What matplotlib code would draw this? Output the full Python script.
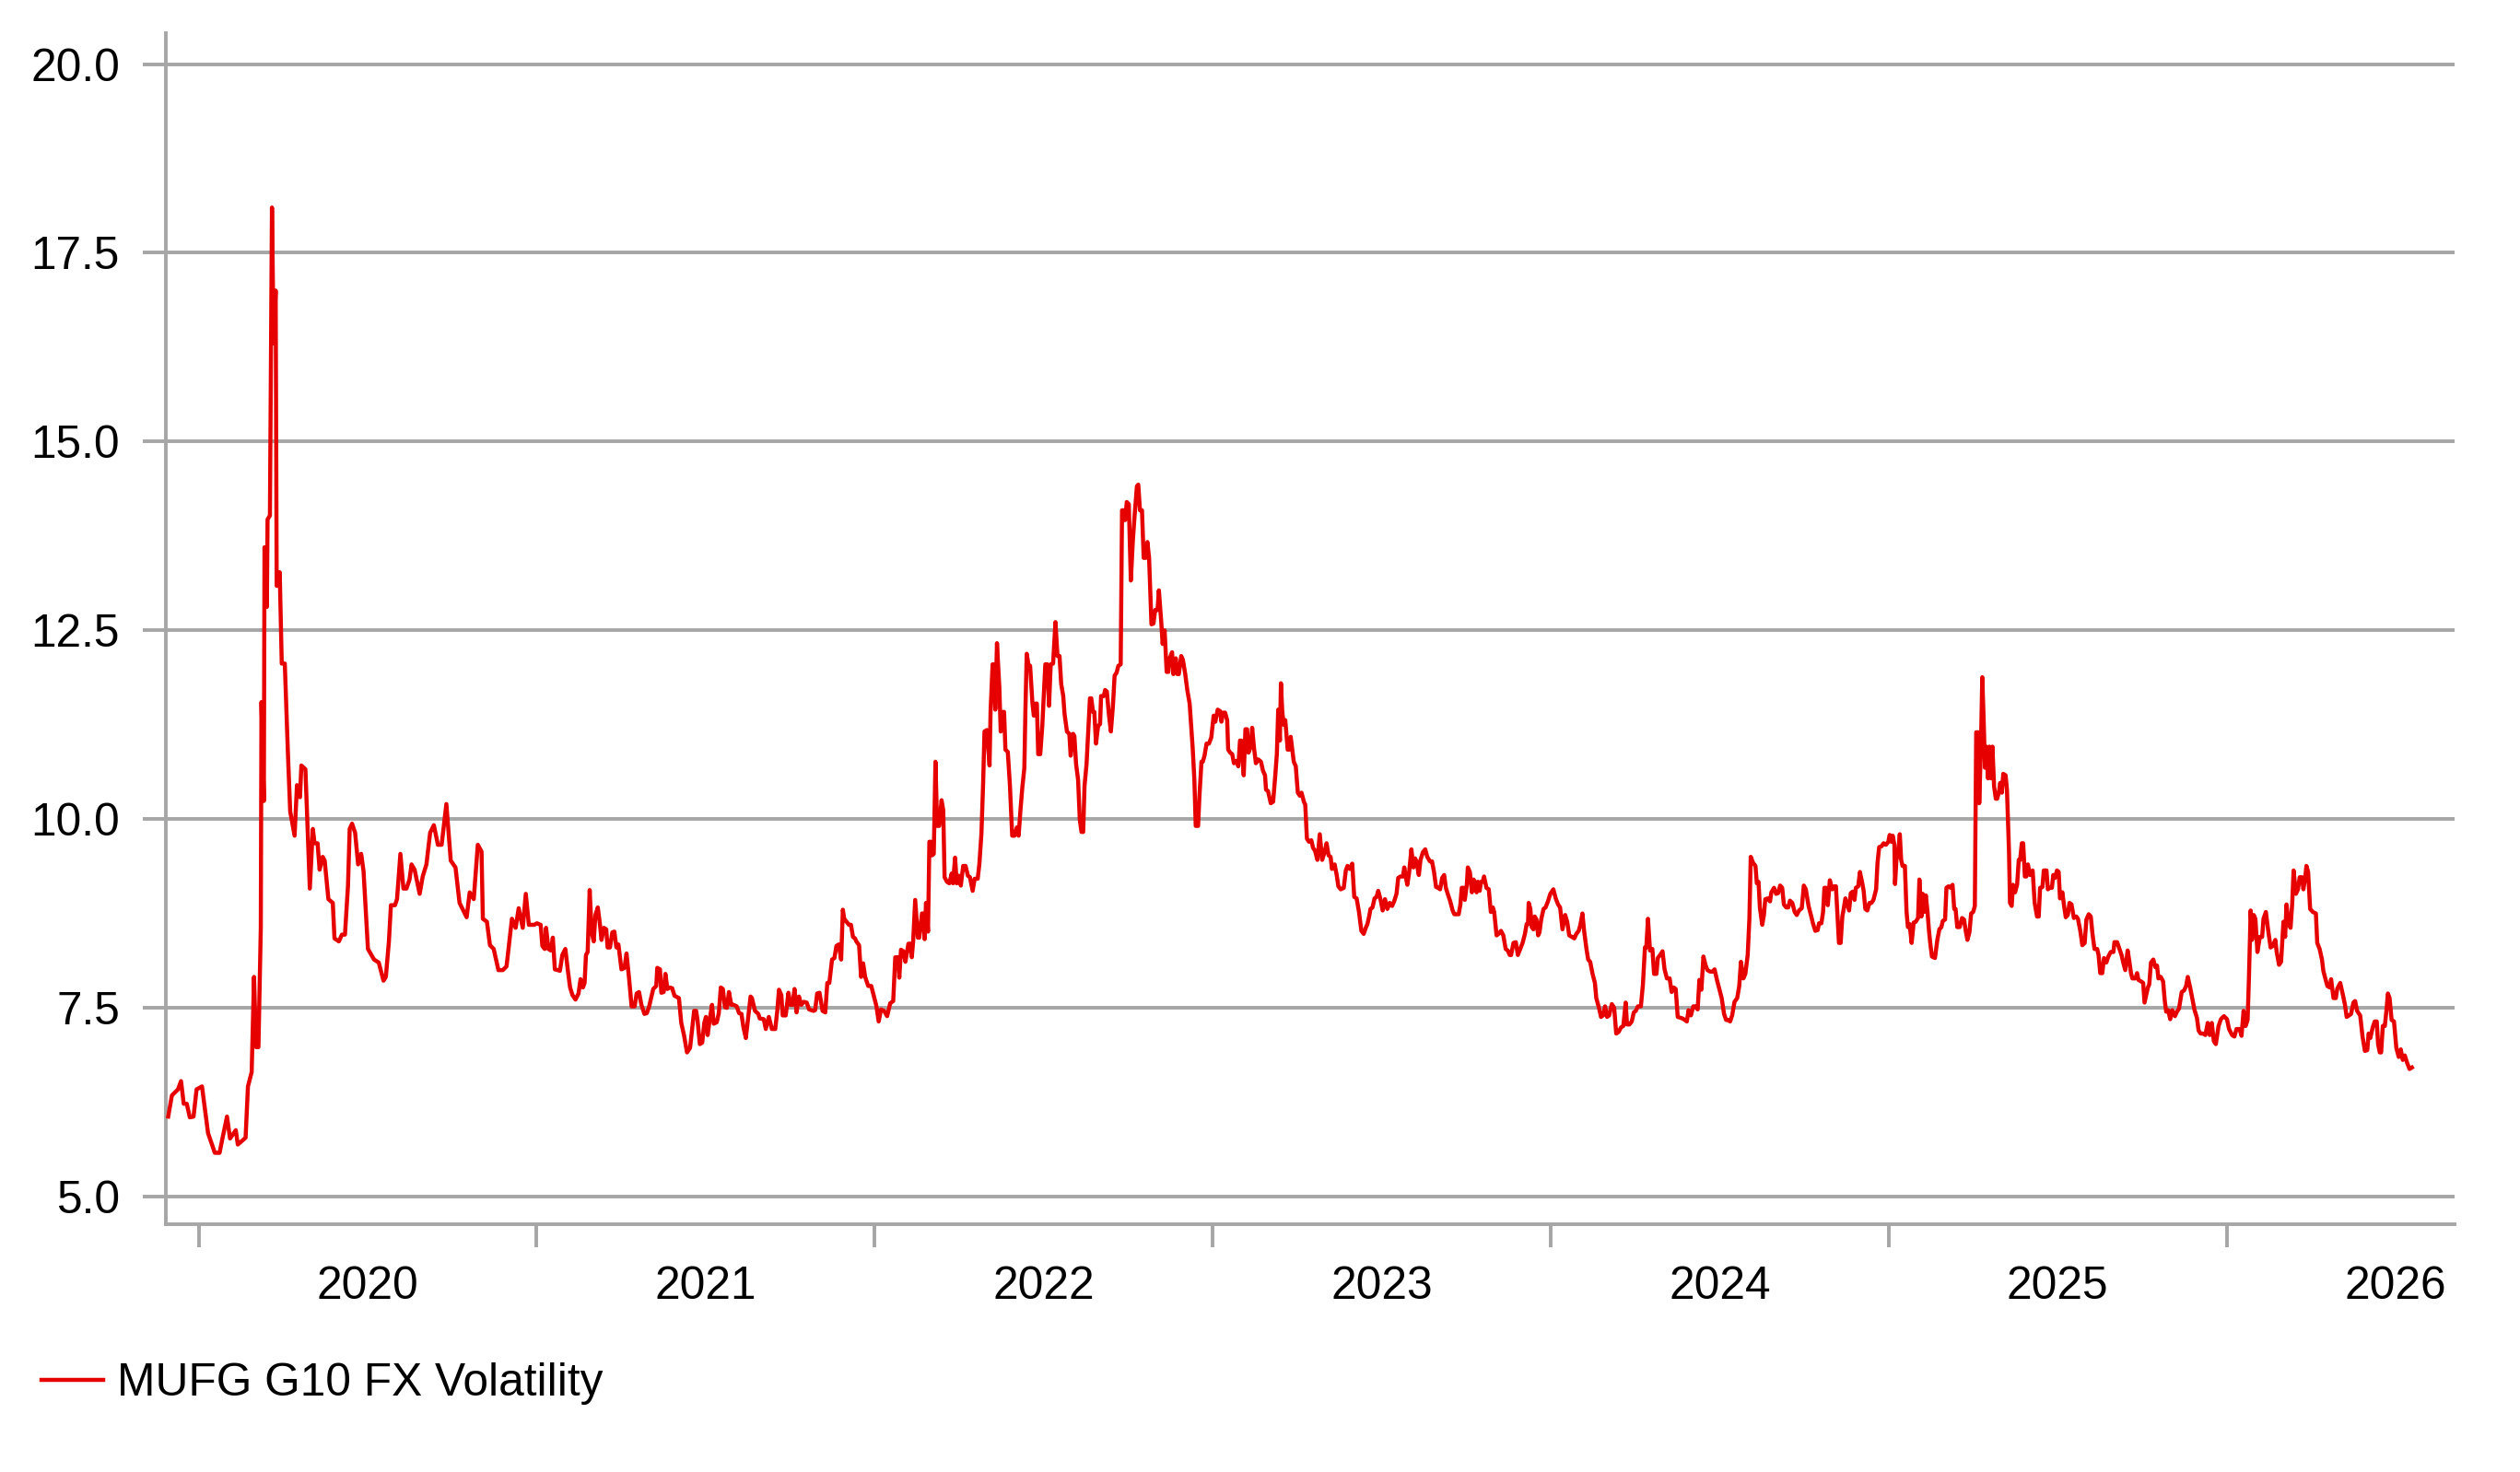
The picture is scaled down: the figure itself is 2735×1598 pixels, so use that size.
import numpy as np
import matplotlib.pyplot as plt

plt.rcParams['font.family'] = ['Liberation Sans', 'DejaVu Sans']

# MUFG G10 FX Volatility (x in decimal years)
t_2020 = [2019.910, 2019.921, 2019.939, 2019.948, 2019.956, 2019.965, 2019.974, 2019.985, 2019.994,
          2020.010, 2020.028, 2020.048, 2020.062, 2020.071, 2020.084, 2020.093, 2020.110, 2020.116,
          2020.139, 2020.146, 2020.157, 2020.164, 2020.170, 2020.177, 2020.184, 2020.186, 2020.193,
          2020.195, 2020.202, 2020.204, 2020.211, 2020.217, 2020.222, 2020.228, 2020.231, 2020.237,
          2020.240, 2020.246, 2020.255, 2020.264, 2020.271, 2020.284, 2020.291, 2020.300, 2020.304,
          2020.316, 2020.329, 2020.338, 2020.343, 2020.352, 2020.358, 2020.367, 2020.373, 2020.384,
          2020.397, 2020.402, 2020.415, 2020.424, 2020.433, 2020.442, 2020.447, 2020.454, 2020.463,
          2020.472, 2020.481, 2020.488, 2020.501, 2020.519, 2020.533, 2020.547, 2020.554, 2020.563,
          2020.569, 2020.581, 2020.587, 2020.597, 2020.606, 2020.615, 2020.624, 2020.630, 2020.639,
          2020.654, 2020.663, 2020.674, 2020.685, 2020.696, 2020.708, 2020.719, 2020.733, 2020.746,
          2020.760, 2020.772, 2020.782, 2020.793, 2020.802, 2020.814, 2020.826, 2020.837, 2020.841,
          2020.853, 2020.862, 2020.873, 2020.887, 2020.900, 2020.911, 2020.927, 2020.938, 2020.947,
          2020.959, 2020.968, 2020.977, 2020.993]
v_2020 = [6.06, 6.34, 6.42, 6.53, 6.23, 6.23, 6.05, 6.06, 6.42,
          6.46, 5.84, 5.58, 5.58, 5.78, 6.06, 5.77, 5.88, 5.69,
          5.78, 6.46, 6.65, 7.91, 6.98, 6.98, 8.56, 11.55, 10.24,
          13.60, 12.81, 13.97, 14.02, 18.10, 16.30, 17.00, 13.09, 13.09,
          13.27, 12.06, 12.06, 10.90, 10.10, 9.78, 10.45, 10.29, 10.71,
          10.66, 9.08, 9.87, 9.68, 9.68, 9.33, 9.50, 9.45, 8.94,
          8.89, 8.42, 8.38, 8.47, 8.47, 9.12, 9.87, 9.94, 9.82,
          9.40, 9.54, 9.31, 8.28, 8.14, 8.10, 7.86, 7.91, 8.38,
          8.86, 8.86, 8.94, 9.54, 9.08, 9.08, 9.20, 9.40, 9.33,
          9.01, 9.24, 9.40, 9.82, 9.92, 9.66, 9.66, 10.20, 9.45,
          9.36, 8.89, 8.80, 8.70, 9.03, 8.94, 9.66, 9.57, 8.68,
          8.64, 8.33, 8.28, 8.00, 8.00, 8.05, 8.68, 8.56, 8.82,
          8.56, 9.01, 8.60, 8.60]

t_2021 = [2021.001, 2021.012, 2021.017, 2021.024, 2021.028, 2021.035, 2021.042, 2021.048, 2021.054,
          2021.063, 2021.069, 2021.076, 2021.085, 2021.092, 2021.099, 2021.106, 2021.115, 2021.124,
          2021.130, 2021.137, 2021.142, 2021.146, 2021.151, 2021.157, 2021.163, 2021.169, 2021.174,
          2021.181, 2021.187, 2021.192, 2021.199, 2021.206, 2021.210, 2021.217, 2021.224, 2021.230,
          2021.236, 2021.242, 2021.251, 2021.260, 2021.266, 2021.274, 2021.281, 2021.290, 2021.296,
          2021.303, 2021.310, 2021.319, 2021.326, 2021.333, 2021.345, 2021.354, 2021.357, 2021.365,
          2021.369, 2021.376, 2021.381, 2021.387, 2021.394, 2021.401, 2021.408, 2021.421, 2021.428,
          2021.436, 2021.445, 2021.454, 2021.460, 2021.466, 2021.472, 2021.476, 2021.483, 2021.490,
          2021.496, 2021.501, 2021.506, 2021.512, 2021.519, 2021.524, 2021.533, 2021.539, 2021.545,
          2021.551, 2021.557, 2021.563, 2021.569, 2021.576, 2021.583, 2021.592, 2021.599, 2021.606,
          2021.612, 2021.619, 2021.626, 2021.633, 2021.637, 2021.646, 2021.656, 2021.660, 2021.672,
          2021.678, 2021.687, 2021.696, 2021.706, 2021.712, 2021.717, 2021.724, 2021.728, 2021.737,
          2021.745, 2021.751, 2021.757, 2021.763, 2021.769, 2021.776, 2021.783, 2021.790, 2021.799,
          2021.806, 2021.819, 2021.824, 2021.830, 2021.837, 2021.846, 2021.854, 2021.860, 2021.866,
          2021.874, 2021.881, 2021.887, 2021.894, 2021.901, 2021.906, 2021.910, 2021.917, 2021.924,
          2021.930, 2021.936, 2021.942, 2021.946, 2021.954, 2021.960, 2021.966, 2021.972, 2021.981,
          2021.990]
v_2021 = [8.62, 8.60, 8.32, 8.28, 8.56, 8.28, 8.26, 8.43, 8.01,
          8.00, 7.99, 8.20, 8.28, 8.01, 7.77, 7.67, 7.61, 7.69,
          7.88, 7.77, 7.83, 8.20, 8.24, 9.06, 8.50, 8.38, 8.73,
          8.83, 8.62, 8.40, 8.56, 8.54, 8.30, 8.30, 8.50, 8.51,
          8.30, 8.34, 8.01, 8.03, 8.22, 7.87, 7.52, 7.52, 7.69,
          7.71, 7.54, 7.42, 7.43, 7.52, 7.75, 7.79, 8.03, 8.01,
          7.70, 7.71, 7.95, 7.75, 7.77, 7.76, 7.66, 7.63, 7.30,
          7.14, 6.91, 6.97, 7.22, 7.46, 7.46, 7.34, 7.02, 7.04,
          7.30, 7.38, 7.14, 7.34, 7.54, 7.29, 7.31, 7.43, 7.77,
          7.75, 7.51, 7.50, 7.71, 7.54, 7.54, 7.52, 7.43, 7.42,
          7.24, 7.10, 7.38, 7.65, 7.63, 7.46, 7.42, 7.36, 7.35,
          7.22, 7.38, 7.22, 7.22, 7.46, 7.74, 7.67, 7.40, 7.40,
          7.70, 7.54, 7.54, 7.75, 7.44, 7.65, 7.54, 7.58, 7.57,
          7.48, 7.46, 7.47, 7.69, 7.70, 7.46, 7.44, 7.83, 7.83,
          8.14, 8.16, 8.32, 8.34, 8.14, 8.80, 8.68, 8.64, 8.60,
          8.60, 8.44, 8.42, 8.38, 8.33, 7.91, 8.09, 7.91, 7.79,
          7.79]

t_2022 = [2022.005, 2022.012, 2022.019, 2022.028, 2022.037, 2022.046, 2022.055, 2022.061, 2022.069,
          2022.073, 2022.078, 2022.085, 2022.091, 2022.100, 2022.105, 2022.110, 2022.114, 2022.120,
          2022.128, 2022.132, 2022.140, 2022.143, 2022.148, 2022.152, 2022.158, 2022.162, 2022.167,
          2022.170, 2022.175, 2022.180, 2022.185, 2022.191, 2022.198, 2022.203, 2022.207, 2022.214,
          2022.221, 2022.228, 2022.232, 2022.238, 2022.243, 2022.249, 2022.255, 2022.262, 2022.269,
          2022.276, 2022.282, 2022.290, 2022.296, 2022.305, 2022.310, 2022.316, 2022.321, 2022.325,
          2022.332, 2022.340, 2022.343, 2022.349, 2022.353, 2022.357, 2022.362, 2022.369, 2022.373,
          2022.380, 2022.383, 2022.387, 2022.394, 2022.400, 2022.407, 2022.414, 2022.421, 2022.426,
          2022.432, 2022.437, 2022.443, 2022.446, 2022.450, 2022.455, 2022.460, 2022.467, 2022.471,
          2022.476, 2022.480, 2022.484, 2022.490, 2022.496, 2022.500, 2022.505, 2022.511, 2022.516,
          2022.521, 2022.528, 2022.535, 2022.541, 2022.547, 2022.552, 2022.558, 2022.562, 2022.569,
          2022.576, 2022.580, 2022.587, 2022.591, 2022.596, 2022.602, 2022.607, 2022.612, 2022.617,
          2022.621, 2022.627, 2022.632, 2022.637, 2022.641, 2022.646, 2022.650, 2022.655, 2022.661,
          2022.667, 2022.670, 2022.678, 2022.682, 2022.687, 2022.693, 2022.699, 2022.705, 2022.710,
          2022.716, 2022.721, 2022.728, 2022.732, 2022.737, 2022.741, 2022.746, 2022.752, 2022.758,
          2022.764, 2022.769, 2022.776, 2022.780, 2022.785, 2022.791, 2022.796, 2022.802, 2022.807,
          2022.812, 2022.819, 2022.825, 2022.830, 2022.837, 2022.841, 2022.848, 2022.852, 2022.858,
          2022.864, 2022.869, 2022.873, 2022.880, 2022.884, 2022.891, 2022.896, 2022.900, 2022.907,
          2022.912, 2022.919, 2022.925, 2022.932, 2022.941, 2022.946, 2022.950, 2022.957, 2022.961,
          2022.967, 2022.971, 2022.976, 2022.982, 2022.989, 2022.996, 2023.003]
v_2022 = [7.53, 7.32, 7.48, 7.46, 7.39, 7.56, 7.59, 8.17, 8.17,
          7.90, 8.27, 8.25, 8.11, 8.35, 8.35, 8.17, 8.38, 8.93,
          8.43, 8.43, 8.75, 8.75, 8.41, 8.89, 8.51, 9.70, 9.70,
          9.52, 9.54, 10.76, 9.91, 9.91, 10.25, 10.12, 9.23, 9.17,
          9.15, 9.28, 9.15, 9.49, 9.15, 9.25, 9.12, 9.38, 9.38,
          9.25, 9.23, 9.05, 9.21, 9.21, 9.41, 9.81, 10.47, 11.16,
          11.18, 10.71, 11.42, 12.05, 12.05, 11.45, 12.33, 11.74, 11.16,
          11.42, 11.42, 10.92, 10.89, 10.47, 9.78, 9.78, 9.89, 9.78,
          10.15, 10.42, 10.68, 11.42, 12.19, 12.05, 12.03, 11.53, 11.37,
          11.53, 11.53, 10.86, 10.86, 11.23, 11.60, 12.05, 12.05, 11.50,
          12.05, 12.06, 12.61, 12.16, 12.16, 11.79, 11.63, 11.39, 11.16,
          11.13, 10.84, 11.13, 11.10, 10.73, 10.52, 9.99, 9.83, 9.83,
          10.44, 10.73, 11.16, 11.60, 11.60, 11.42, 11.42, 11.00, 11.23,
          11.26, 11.63, 11.63, 11.71, 11.69, 11.39, 11.16, 11.50, 11.90,
          11.94, 12.03, 12.05, 14.09, 14.09, 13.96, 14.20, 14.17, 13.16,
          13.69, 14.01, 14.41, 14.43, 14.09, 14.09, 13.46, 13.46, 13.67,
          13.46, 12.58, 12.59, 12.77, 12.77, 13.03, 12.61, 12.32, 12.50,
          11.95, 11.95, 12.13, 12.21, 11.92, 12.13, 11.92, 11.92, 12.16,
          12.11, 11.92, 11.71, 11.53, 10.94, 10.52, 9.91, 9.91, 10.31,
          10.76, 10.76, 10.84, 11.00, 11.00, 11.08, 11.37]

t_2023 = [2023.008, 2023.015, 2023.022, 2023.026, 2023.031, 2023.037, 2023.043, 2023.046, 2023.052,
          2023.058, 2023.063, 2023.070, 2023.076, 2023.081, 2023.085, 2023.092, 2023.097, 2023.102,
          2023.106, 2023.113, 2023.117, 2023.122, 2023.128, 2023.135, 2023.143, 2023.149, 2023.155,
          2023.158, 2023.164, 2023.172, 2023.179, 2023.185, 2023.190, 2023.194, 2023.199, 2023.202,
          2023.206, 2023.210, 2023.215, 2023.222, 2023.226, 2023.231, 2023.235, 2023.240, 2023.246,
          2023.252, 2023.258, 2023.263, 2023.270, 2023.274, 2023.279, 2023.285, 2023.292, 2023.297,
          2023.303, 2023.310, 2023.317, 2023.324, 2023.331, 2023.337, 2023.343, 2023.349, 2023.353,
          2023.361, 2023.367, 2023.372, 2023.379, 2023.388, 2023.394, 2023.399, 2023.406, 2023.413,
          2023.419, 2023.426, 2023.433, 2023.440, 2023.447, 2023.453, 2023.458, 2023.463, 2023.467,
          2023.473, 2023.479, 2023.485, 2023.490, 2023.497, 2023.503, 2023.510, 2023.517, 2023.524,
          2023.531, 2023.537, 2023.544, 2023.549, 2023.555, 2023.563, 2023.567, 2023.572, 2023.576,
          2023.581, 2023.588, 2023.594, 2023.599, 2023.603, 2023.610, 2023.615, 2023.622, 2023.629,
          2023.635, 2023.643, 2023.649, 2023.655, 2023.661, 2023.667, 2023.673, 2023.679, 2023.685,
          2023.690, 2023.697, 2023.703, 2023.710, 2023.715, 2023.722, 2023.728, 2023.733, 2023.737,
          2023.743, 2023.746, 2023.752, 2023.755, 2023.761, 2023.767, 2023.772, 2023.776, 2023.781,
          2023.785, 2023.790, 2023.794, 2023.799, 2023.803, 2023.810, 2023.817, 2023.823, 2023.829,
          2023.833, 2023.840, 2023.846, 2023.853, 2023.860, 2023.867, 2023.873, 2023.879, 2023.883,
          2023.890, 2023.897, 2023.903, 2023.910, 2023.917, 2023.924, 2023.929, 2023.933, 2023.935,
          2023.940, 2023.944, 2023.949, 2023.953, 2023.958, 2023.963, 2023.967, 2023.972, 2023.979,
          2023.985, 2023.992, 2023.999]
v_2023 = [11.29, 11.45, 11.43, 11.29, 11.41, 11.41, 11.31, 10.92, 10.88,
          10.86, 10.74, 10.77, 10.70, 11.04, 11.04, 10.58, 11.19, 11.19,
          10.88, 10.96, 11.21, 10.96, 10.74, 10.79, 10.76, 10.64, 10.58,
          10.39, 10.37, 10.21, 10.23, 10.56, 10.86, 11.45, 11.04, 11.80,
          11.43, 11.25, 11.31, 10.92, 10.92, 11.09, 10.94, 10.76, 10.70,
          10.35, 10.31, 10.35, 10.23, 10.19, 9.74, 9.70, 9.72, 9.62,
          9.58, 9.46, 9.80, 9.46, 9.56, 9.68, 9.52, 9.50, 9.34,
          9.40, 9.26, 9.11, 9.07, 9.09, 9.32, 9.38, 9.34, 9.41,
          8.97, 8.95, 8.77, 8.52, 8.48, 8.56, 8.61, 8.71, 8.81,
          8.83, 8.95, 8.97, 9.05, 8.93, 8.79, 8.94, 8.81, 8.89,
          8.85, 8.91, 9.01, 9.22, 9.24, 9.24, 9.36, 9.22, 9.13,
          9.28, 9.60, 9.36, 9.48, 9.44, 9.26, 9.46, 9.56, 9.60,
          9.50, 9.44, 9.44, 9.30, 9.10, 9.09, 9.07, 9.22, 9.26,
          9.09, 8.99, 8.91, 8.79, 8.74, 8.74, 8.74, 8.87, 9.09,
          9.09, 8.93, 9.13, 9.36, 9.30, 9.03, 9.20, 9.17, 9.03,
          9.17, 9.05, 9.17, 9.17, 9.24, 9.09, 9.07, 8.77, 8.83,
          8.77, 8.46, 8.48, 8.52, 8.46, 8.28, 8.26, 8.20, 8.20,
          8.36, 8.37, 8.20, 8.28, 8.36, 8.48, 8.61, 8.61, 8.89,
          8.81, 8.57, 8.54, 8.71, 8.67, 8.46, 8.50, 8.67, 8.81,
          8.83, 8.91, 9.01]

t_2024 = [2024.008, 2024.015, 2024.022, 2024.028, 2024.035, 2024.043, 2024.049, 2024.055, 2024.063,
          2024.070, 2024.076, 2024.083, 2024.088, 2024.094, 2024.099, 2024.106, 2024.111, 2024.117,
          2024.124, 2024.131, 2024.135, 2024.143, 2024.149, 2024.155, 2024.161, 2024.167, 2024.173,
          2024.181, 2024.188, 2024.194, 2024.201, 2024.208, 2024.215, 2024.222, 2024.226, 2024.233,
          2024.240, 2024.246, 2024.252, 2024.258, 2024.267, 2024.273, 2024.279, 2024.283, 2024.288,
          2024.294, 2024.301, 2024.306, 2024.313, 2024.317, 2024.324, 2024.331, 2024.337, 2024.344,
          2024.352, 2024.358, 2024.364, 2024.370, 2024.376, 2024.383, 2024.390, 2024.397, 2024.403,
          2024.408, 2024.415, 2024.422, 2024.428, 2024.435, 2024.440, 2024.446, 2024.452, 2024.458,
          2024.464, 2024.472, 2024.479, 2024.485, 2024.492, 2024.499, 2024.506, 2024.513, 2024.519,
          2024.524, 2024.531, 2024.537, 2024.544, 2024.552, 2024.558, 2024.563, 2024.570, 2024.576,
          2024.583, 2024.588, 2024.592, 2024.599, 2024.606, 2024.610, 2024.615, 2024.619, 2024.626,
          2024.631, 2024.635, 2024.642, 2024.649, 2024.653, 2024.661, 2024.667, 2024.673, 2024.679,
          2024.685, 2024.690, 2024.697, 2024.703, 2024.708, 2024.715, 2024.722, 2024.728, 2024.735,
          2024.743, 2024.749, 2024.755, 2024.763, 2024.770, 2024.776, 2024.783, 2024.790, 2024.794,
          2024.801, 2024.806, 2024.810, 2024.815, 2024.820, 2024.826, 2024.833, 2024.840, 2024.844,
          2024.849, 2024.853, 2024.858, 2024.863, 2024.867, 2024.872, 2024.879, 2024.883, 2024.888,
          2024.894, 2024.899, 2024.903, 2024.910, 2024.915, 2024.922, 2024.926, 2024.931, 2024.937,
          2024.943, 2024.949, 2024.955, 2024.963, 2024.967, 2024.972, 2024.979, 2024.985, 2024.992,
          2024.999, 2025.003, 2025.008]
v_2024 = [9.07, 8.95, 8.87, 8.83, 8.54, 8.73, 8.64, 8.46, 8.44,
          8.42, 8.48, 8.52, 8.60, 8.75, 8.52, 8.28, 8.14, 8.11,
          7.95, 7.83, 7.63, 7.50, 7.38, 7.40, 7.52, 7.38, 7.40,
          7.55, 7.50, 7.16, 7.18, 7.24, 7.26, 7.57, 7.28, 7.28,
          7.32, 7.44, 7.46, 7.52, 7.52, 7.81, 8.30, 8.30, 8.68,
          8.26, 8.28, 7.95, 7.95, 8.16, 8.20, 8.25, 8.01, 7.89,
          7.89, 7.71, 7.77, 7.75, 7.38, 7.37, 7.36, 7.34, 7.32,
          7.47, 7.40, 7.52, 7.52, 7.48, 7.87, 7.74, 8.18, 8.07,
          8.00, 7.98, 7.98, 8.01, 7.87, 7.75, 7.63, 7.42, 7.34,
          7.34, 7.32, 7.40, 7.58, 7.63, 7.79, 8.11, 7.89, 7.95,
          8.20, 8.68, 9.50, 9.42, 9.38, 9.15, 9.17, 8.83, 8.60,
          8.73, 8.94, 8.95, 8.91, 9.03, 9.09, 9.01, 9.02, 9.12,
          9.09, 8.87, 8.83, 8.83, 8.92, 8.89, 8.77, 8.73, 8.79,
          8.82, 9.12, 9.07, 8.85, 8.73, 8.62, 8.52, 8.53, 8.62,
          8.62, 8.77, 9.09, 9.09, 8.86, 9.19, 9.07, 9.11, 9.11,
          8.68, 8.36, 8.36, 8.71, 8.81, 8.95, 8.85, 8.79, 9.02,
          9.04, 8.93, 9.09, 9.11, 9.30, 9.15, 9.05, 8.81, 8.79,
          8.89, 8.89, 8.93, 9.07, 9.42, 9.63, 9.64, 9.68, 9.66,
          9.70, 9.79, 9.70]

t_2025 = [2025.012, 2025.017, 2025.019, 2025.023, 2025.028, 2025.033, 2025.037, 2025.041, 2025.048,
          2025.053, 2025.057, 2025.062, 2025.068, 2025.074, 2025.080, 2025.087, 2025.091, 2025.097,
          2025.101, 2025.105, 2025.110, 2025.115, 2025.119, 2025.123, 2025.128, 2025.137, 2025.144,
          2025.150, 2025.156, 2025.160, 2025.167, 2025.171, 2025.177, 2025.183, 2025.189, 2025.194,
          2025.198, 2025.203, 2025.210, 2025.217, 2025.223, 2025.228, 2025.233, 2025.239, 2025.244,
          2025.250, 2025.255, 2025.259, 2025.265, 2025.268, 2025.273, 2025.277, 2025.281, 2025.285,
          2025.289, 2025.294, 2025.298, 2025.303, 2025.307, 2025.312, 2025.317, 2025.321, 2025.326,
          2025.330, 2025.335, 2025.339, 2025.346, 2025.350, 2025.356, 2025.359, 2025.364, 2025.368,
          2025.374, 2025.380, 2025.385, 2025.389, 2025.394, 2025.398, 2025.403, 2025.407, 2025.412,
          2025.418, 2025.426, 2025.432, 2025.439, 2025.444, 2025.448, 2025.455, 2025.459, 2025.467,
          2025.471, 2025.477, 2025.483, 2025.487, 2025.492, 2025.498, 2025.503, 2025.507, 2025.514,
          2025.519, 2025.524, 2025.530, 2025.535, 2025.541, 2025.548, 2025.555, 2025.560, 2025.567,
          2025.573, 2025.580, 2025.585, 2025.592, 2025.598, 2025.603, 2025.609, 2025.617, 2025.621,
          2025.626, 2025.632, 2025.637, 2025.644, 2025.650, 2025.657, 2025.665, 2025.668, 2025.676,
          2025.683, 2025.689, 2025.694, 2025.700, 2025.707, 2025.712, 2025.717, 2025.721, 2025.730,
          2025.735, 2025.739, 2025.747, 2025.753, 2025.757, 2025.762, 2025.767, 2025.771, 2025.776,
          2025.783, 2025.789, 2025.794, 2025.798, 2025.805, 2025.812, 2025.817, 2025.821, 2025.827,
          2025.833, 2025.839, 2025.847, 2025.853, 2025.859, 2025.867, 2025.874, 2025.880, 2025.885,
          2025.892, 2025.898, 2025.905, 2025.912, 2025.917, 2025.923, 2025.930, 2025.937, 2025.944,
          2025.950, 2025.956, 2025.962, 2025.968, 2025.976, 2025.983, 2025.992, 2026.001, 2026.007,
          2026.016]
v_2025 = [9.78, 9.66, 9.14, 9.46, 9.54, 9.80, 9.46, 9.38, 9.38,
          8.77, 8.57, 8.61, 8.36, 8.63, 8.64, 8.69, 9.20, 8.71,
          9.01, 8.77, 8.99, 8.77, 8.54, 8.36, 8.18, 8.16, 8.40,
          8.54, 8.57, 8.65, 8.67, 9.09, 9.11, 9.09, 9.13, 8.81,
          8.81, 8.57, 8.57, 8.69, 8.67, 8.52, 8.40, 8.50, 8.75,
          8.77, 8.85, 11.15, 11.15, 10.21, 10.96, 11.88, 11.33, 10.68,
          10.96, 10.54, 10.96, 10.54, 10.96, 10.43, 10.27, 10.27, 10.35,
          10.48, 10.35, 10.60, 10.58, 10.39, 9.58, 8.89, 8.85, 9.13,
          9.03, 9.13, 9.46, 9.46, 9.68, 9.68, 9.24, 9.24, 9.40,
          9.26, 9.32, 8.89, 8.71, 8.71, 9.09, 9.10, 9.32, 9.32,
          9.07, 9.09, 9.09, 9.26, 9.22, 9.32, 9.30, 8.95, 9.03,
          8.85, 8.70, 8.73, 8.89, 8.87, 8.69, 8.71, 8.68, 8.52,
          8.33, 8.36, 8.67, 8.74, 8.71, 8.48, 8.28, 8.28, 8.20,
          7.96, 7.96, 8.16, 8.10, 8.18, 8.24, 8.24, 8.37, 8.37,
          8.28, 8.20, 8.10, 8.00, 8.26, 8.12, 7.96, 7.89, 7.89,
          7.96, 7.87, 7.85, 7.83, 7.57, 7.67, 7.77, 7.81, 8.10,
          8.14, 8.04, 8.06, 7.89, 7.91, 7.85, 7.59, 7.45, 7.47,
          7.35, 7.47, 7.39, 7.45, 7.49, 7.71, 7.73, 7.79, 7.91,
          7.77, 7.63, 7.47, 7.37, 7.20, 7.16, 7.16, 7.14, 7.30,
          7.14, 7.30, 7.06, 7.02, 7.26, 7.35, 7.39, 7.35, 7.22,
          7.14]

t_2026 = [2026.023, 2026.029, 2026.038, 2026.044, 2026.050, 2026.056, 2026.062, 2026.066, 2026.071,
          2026.075, 2026.080, 2026.085, 2026.091, 2026.098, 2026.105, 2026.109, 2026.116, 2026.123,
          2026.130, 2026.136, 2026.144, 2026.148, 2026.155, 2026.161, 2026.168, 2026.173, 2026.177,
          2026.184, 2026.189, 2026.194, 2026.198, 2026.205, 2026.211, 2026.216, 2026.223, 2026.227,
          2026.232, 2026.236, 2026.241, 2026.247, 2026.255, 2026.264, 2026.268, 2026.275, 2026.282,
          2026.286, 2026.293, 2026.298, 2026.305, 2026.309, 2026.316, 2026.323, 2026.327, 2026.336,
          2026.344, 2026.350, 2026.355, 2026.362, 2026.368, 2026.375, 2026.380, 2026.386, 2026.395,
          2026.402, 2026.409, 2026.416, 2026.420, 2026.425, 2026.432, 2026.438, 2026.444, 2026.448,
          2026.453, 2026.457, 2026.462, 2026.468, 2026.473, 2026.477, 2026.482, 2026.488, 2026.495,
          2026.502, 2026.509, 2026.515, 2026.521, 2026.527, 2026.534, 2026.541, 2026.548]
v_2026 = [7.12, 7.22, 7.22, 7.13, 7.46, 7.26, 7.34, 7.91, 8.79,
          8.40, 8.73, 8.68, 8.24, 8.44, 8.44, 8.68, 8.77, 8.52,
          8.30, 8.32, 8.40, 8.24, 8.07, 8.11, 8.64, 8.44, 8.87,
          8.60, 8.56, 8.89, 9.32, 9.01, 9.07, 9.23, 9.23, 9.07,
          9.21, 9.38, 9.30, 8.81, 8.77, 8.75, 8.36, 8.28, 8.14,
          7.99, 7.87, 7.79, 7.77, 7.88, 7.63, 7.63, 7.75, 7.83,
          7.67, 7.54, 7.38, 7.40, 7.42, 7.57, 7.59, 7.46, 7.40,
          7.12, 6.93, 6.94, 7.16, 7.10, 7.24, 7.32, 7.32, 7.02,
          6.91, 6.91, 7.26, 7.26, 7.48, 7.69, 7.63, 7.34, 7.32,
          6.97, 6.85, 6.95, 6.81, 6.87, 6.77, 6.69, 6.71]

years = [2020, 2021, 2022, 2023, 2024, 2025, 2026]
year_labels = [str(y) for y in years]
y_ticks = [5.0, 7.5, 10.0, 12.5, 15.0, 17.5, 20.0]

t = np.concatenate([t_2020, t_2021, t_2022, t_2023, t_2024, t_2025, t_2026])
vol = np.concatenate([v_2020, v_2021, v_2022, v_2023, v_2024, v_2025, v_2026])

grey = '#A6A6A6'
fs = 35.7

fig = plt.figure(figsize=(27.35, 15.98), dpi=100)
ax = fig.add_axes([0.0658, 0.1681, 0.9082, 0.8094])
ax.plot(t, vol, color='#E60000', lw=3.2, label='MUFG G10 FX Volatility', zorder=3)

ax.set_xlim(2019.903, 2026.674)
ax.set_ylim(4.63, 20.41)
ax.set_yticks(y_ticks)
ax.set_yticklabels([f'{y:.1f}' for y in y_ticks])
ax.set_axisbelow(True)
ax.yaxis.grid(True, color=grey, lw=2.8)

# year boundaries as ticks, labels in the middle of each year
ax.set_xticks(years)
ax.set_xticklabels([])
ax.set_xticks([y + 0.5 for y in years], minor=True)
ax.set_xticklabels(year_labels, minor=True)
ax.tick_params(axis='x', which='major', length=18, width=2.8, color=grey)
ax.tick_params(axis='x', which='minor', length=0, pad=32, labelsize=fs)
ax.tick_params(axis='y', length=18, width=2.8, color=grey, pad=18, labelsize=fs)

for s in ['top', 'right']:
    ax.spines[s].set_visible(False)
for s in ['left', 'bottom']:
    ax.spines[s].set_color(grey)
    ax.spines[s].set_linewidth(2.8)

ax.legend(loc='center left', bbox_to_anchor=(45 / 2735, 1 - 1502 / 1598),
          bbox_transform=fig.transFigure, frameon=False, fontsize=fs,
          handlelength=1.36, handletextpad=0.3, borderpad=0, borderaxespad=0)

fig.savefig('out.png', dpi=100)
